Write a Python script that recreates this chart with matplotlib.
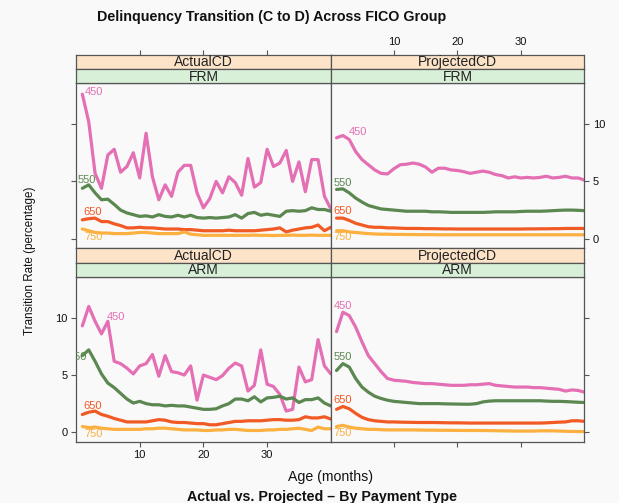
import matplotlib
matplotlib.use("Agg")
import matplotlib.pyplot as plt
import numpy as np

plt.rcParams['font.family'] = ['Liberation Sans', 'DejaVu Sans']

# ---------------- data ----------------
ages = list(range(1, 41))
fico_groups = ["450", "550", "650", "750"]
measures = ["ActualCD", "ProjectedCD"]
pay_types = ["FRM", "ARM"]
x_ticks = [10, 20, 30]
y_ticks = [0, 5, 10]

frm_actual_450 = [12.6, 10.2, 5.7, 4.4, 7.3, 7.8, 5.8, 6.3, 7.5, 5.3, 9.2, 5.4, 3.4, 4.7, 3.7, 5.8, 6.4, 6.4, 4.0, 2.7,
                  3.5, 5.0, 4.0, 5.4, 4.9, 3.8, 7.0, 4.5, 4.9, 7.8, 6.3, 6.6, 7.7, 5.0, 6.7, 4.1, 6.9, 6.9, 3.7, 2.6]
frm_actual_550 = [4.4, 4.7, 4.0, 3.4, 3.45, 3.0, 2.5, 2.25, 2.1, 1.95, 2.0, 1.9, 2.1, 1.95, 1.9, 2.05, 1.9, 2.05, 1.85, 1.8,
                  1.85, 1.8, 1.85, 1.9, 2.1, 1.8, 2.2, 2.3, 2.05, 2.15, 2.05, 1.95, 2.4, 2.45, 2.4, 2.45, 2.7, 2.55, 2.55, 2.4]
frm_actual_650 = [1.65, 1.75, 1.8, 1.5, 1.5, 1.3, 1.15, 0.95, 0.95, 1.0, 0.95, 0.95, 0.9, 0.85, 0.85, 0.85, 0.8, 0.8, 0.75, 0.7,
                  0.7, 0.7, 0.7, 0.75, 0.7, 0.7, 0.7, 0.7, 0.75, 0.8, 0.85, 0.95, 0.6, 0.75, 0.85, 0.95, 1.0, 1.2, 0.7, 1.0]
frm_actual_750 = [0.85, 0.7, 0.55, 0.5, 0.5, 0.45, 0.45, 0.45, 0.5, 0.55, 0.55, 0.5, 0.45, 0.45, 0.45, 0.45, 0.6, 0.4, 0.35, 0.3,
                  0.3, 0.3, 0.3, 0.3, 0.3, 0.3, 0.3, 0.32, 0.3, 0.3, 0.28, 0.3, 0.3, 0.32, 0.3, 0.3, 0.32, 0.3, 0.3, 0.3]

frm_proj_450 = [8.8, 9.0, 8.65, 7.6, 6.9, 6.45, 6.0, 5.7, 5.65, 6.1, 6.45, 6.5, 6.6, 6.5, 6.25, 5.8, 6.15, 6.15, 6.0, 5.95,
                5.85, 5.7, 5.8, 5.9, 5.8, 5.6, 5.5, 5.3, 5.4, 5.3, 5.35, 5.3, 5.35, 5.45, 5.3, 5.35, 5.45, 5.3, 5.3, 5.1]
frm_proj_550 = [4.3, 4.35, 4.0, 3.55, 3.2, 2.9, 2.75, 2.6, 2.55, 2.5, 2.45, 2.4, 2.4, 2.4, 2.4, 2.35, 2.35, 2.33, 2.3, 2.3,
                2.3, 2.3, 2.3, 2.3, 2.32, 2.35, 2.35, 2.35, 2.35, 2.38, 2.4, 2.4, 2.4, 2.42, 2.45, 2.48, 2.5, 2.5, 2.48, 2.45]
frm_proj_650 = [1.8, 1.8, 1.6, 1.35, 1.2, 1.05, 1.0, 1.0, 0.95, 0.95, 0.92, 0.9, 0.9, 0.9, 0.88, 0.88, 0.87, 0.86, 0.86, 0.85,
                0.85, 0.85, 0.85, 0.85, 0.85, 0.85, 0.85, 0.85, 0.85, 0.85, 0.86, 0.86, 0.87, 0.87, 0.88, 0.88, 0.9, 0.9, 0.9, 0.9]
frm_proj_750 = [0.7, 0.7, 0.6, 0.55, 0.5, 0.45, 0.42, 0.4, 0.4, 0.38, 0.38, 0.37, 0.37, 0.36, 0.36, 0.36, 0.35, 0.35, 0.35, 0.35,
                0.35, 0.35, 0.35, 0.35, 0.35, 0.35, 0.35, 0.35, 0.35, 0.35, 0.35, 0.35, 0.35, 0.35, 0.35, 0.35, 0.35, 0.35, 0.35, 0.35]

arm_actual_450 = [9.3, 11.0, 9.7, 8.6, 9.7, 6.2, 6.0, 5.6, 5.1, 5.8, 6.0, 6.8, 4.9, 6.7, 5.3, 5.2, 5.0, 5.8, 2.8, 5.0,
                  4.8, 4.6, 4.95, 5.6, 6.05, 5.8, 3.6, 4.1, 7.2, 4.2, 4.0, 3.3, 1.85, 2.0, 5.7, 4.4, 4.6, 8.1, 5.8, 5.1]
arm_actual_550 = [6.7, 7.2, 6.2, 5.1, 4.3, 3.9, 3.4, 2.9, 2.55, 2.7, 2.5, 2.4, 2.4, 2.3, 2.35, 2.3, 2.3, 2.2, 2.1, 2.0,
                  2.0, 2.05, 2.3, 2.5, 2.9, 2.9, 2.75, 3.1, 2.65, 3.0, 3.05, 3.15, 2.9, 3.0, 2.6, 2.85, 2.85, 3.0, 2.55, 2.3]
arm_actual_650 = [1.55, 1.75, 1.85, 1.55, 1.4, 1.2, 1.05, 0.9, 0.9, 0.9, 0.9, 1.0, 1.1, 1.05, 0.9, 0.85, 0.85, 0.8, 0.75, 0.75,
                  0.65, 0.65, 0.75, 0.85, 0.95, 0.95, 1.0, 1.0, 1.0, 1.05, 1.1, 1.1, 1.05, 1.05, 1.1, 1.35, 1.25, 1.25, 1.35, 1.15]
arm_actual_750 = [0.5, 0.4, 0.45, 0.35, 0.3, 0.25, 0.25, 0.25, 0.25, 0.25, 0.3, 0.3, 0.35, 0.35, 0.3, 0.25, 0.2, 0.2, 0.2, 0.15,
                  0.15, 0.2, 0.2, 0.25, 0.25, 0.2, 0.15, 0.15, 0.15, 0.2, 0.2, 0.25, 0.25, 0.3, 0.35, 0.25, 0.15, 0.45, 0.3, 0.3]

arm_proj_450 = [8.8, 10.5, 10.2, 9.2, 7.9, 6.7, 6.0, 5.3, 4.7, 4.55, 4.5, 4.45, 4.35, 4.3, 4.25, 4.25, 4.2, 4.15, 4.1, 4.1,
                4.1, 4.15, 4.15, 4.2, 4.25, 4.1, 4.05, 4.0, 3.95, 3.95, 3.95, 3.9, 3.9, 3.85, 3.8, 3.75, 3.6, 3.7, 3.65, 3.5]
arm_proj_550 = [5.4, 6.0, 5.7, 4.7, 3.95, 3.5, 3.15, 2.95, 2.8, 2.7, 2.65, 2.6, 2.55, 2.5, 2.5, 2.5, 2.5, 2.48, 2.47, 2.46,
                2.45, 2.45, 2.5, 2.65, 2.72, 2.75, 2.75, 2.75, 2.75, 2.75, 2.75, 2.75, 2.75, 2.72, 2.7, 2.7, 2.68, 2.65, 2.62, 2.6]
arm_proj_650 = [2.0, 2.25, 2.05, 1.65, 1.3, 1.1, 1.0, 0.95, 0.9, 0.9, 0.88, 0.87, 0.86, 0.85, 0.85, 0.85, 0.84, 0.83, 0.82, 0.82,
                0.81, 0.8, 0.8, 0.8, 0.8, 0.8, 0.8, 0.8, 0.8, 0.8, 0.8, 0.8, 0.8, 0.82, 0.85, 0.88, 0.9, 1.0, 1.0, 0.95]
arm_proj_750 = [0.5, 0.6, 0.45, 0.35, 0.3, 0.25, 0.25, 0.22, 0.2, 0.2, 0.2, 0.2, 0.2, 0.19, 0.18, 0.18, 0.17, 0.17, 0.16, 0.16,
                0.15, 0.15, 0.15, 0.15, 0.14, 0.13, 0.12, 0.11, 0.1, 0.1, 0.1, 0.1, 0.12, 0.12, 0.12, 0.1, 0.08, 0.07, 0.06, 0.05]

panel_data = {
    ("ActualCD", "FRM"): [frm_actual_450, frm_actual_550, frm_actual_650, frm_actual_750],
    ("ProjectedCD", "FRM"): [frm_proj_450, frm_proj_550, frm_proj_650, frm_proj_750],
    ("ActualCD", "ARM"): [arm_actual_450, arm_actual_550, arm_actual_650, arm_actual_750],
    ("ProjectedCD", "ARM"): [arm_proj_450, arm_proj_550, arm_proj_650, arm_proj_750],
}

# ---------------- style ----------------
colors = ['#e46fb4', '#5b8750', '#f15a24', '#fbb040']
strip1_color = '#fde4c9'
strip2_color = '#d8efd8'
frame_color = '#555555'
bg = '#f9f9f9'

# direct label offsets (pixels) and alignment per panel
label_offsets = {
    ("ActualCD", "FRM"): [(2, 2, 'left'), (-4.5, 8, 'left'), (1, 7.5, 'left'), (2, -8, 'left')],
    ("ProjectedCD", "FRM"): [(12, 5.5, 'left'), (-3, 6, 'left'), (-3, 7, 'left'), (-3, -6, 'left')],
    ("ActualCD", "ARM"): [(24, 9, 'left'), (5, -1.5, 'right'), (1, 8, 'left'), (2, -8, 'left')],
    ("ProjectedCD", "ARM"): [(-3, 26, 'left'), (-3, 13, 'left'), (-3, 9, 'left'), (-3, -7, 'left')],
}

W, H = 619, 503
fig = plt.figure(figsize=(W / 100, H / 100), dpi=100, facecolor=bg)


def rect(l, t, r, b):
    return [l / W, 1 - b / H, (r - l) / W, (b - t) / H]


col_x = [(76.3, 330.5), (330.5, 584.3)]
rows = [  # strip1 top, strip1/2 boundary, strip2 bottom (= plot top), plot bottom
    (55.0, 69.3, 83.3, 248.3),
    (248.3, 262.7, 277.3, 441.7),
]
xlim = (0.05, 39.95)
ylim = (-0.83, 13.55)

tick_kw = dict(direction='out', length=3.6, width=0.8, color=frame_color,
               labelsize=8, labelcolor='#111111', pad=2.5)

for ri, ptype in enumerate(pay_types):
    s1t, s12, s2b, pb = rows[ri]
    for ci, meas in enumerate(measures):
        l, r = col_x[ci]
        ax = fig.add_axes(rect(l, s2b, r, pb), facecolor=bg)
        for k, series in enumerate(panel_data[(meas, ptype)]):
            ax.plot(ages, series, color=colors[k], lw=2.3, solid_joinstyle='round',
                    solid_capstyle='round')
            dx, dy, ha = label_offsets[(meas, ptype)][k]
            ax.annotate(fico_groups[k], xy=(ages[0], series[0]), xytext=(dx, dy),
                        textcoords='offset pixels', ha=ha, va='center',
                        color=colors[k], fontsize=8, clip_on=True)
        ax.set_xlim(*xlim)
        ax.set_ylim(*ylim)
        ax.set_xticks(x_ticks)
        ax.set_yticks(y_ticks)
        for sp in ax.spines.values():
            sp.set_color(frame_color)
            sp.set_linewidth(0.9)
        ax.tick_params(axis='both', **tick_kw)
        ax.tick_params(axis='x', top=False, bottom=(ri == 1), labelbottom=(ri == 1 and ci == 0))
        ax.tick_params(axis='y', left=(ci == 0), right=(ci == 1),
                       labelleft=(ci == 0 and ri == 1), labelright=(ci == 1 and ri == 0))

        # strips
        sa1 = fig.add_axes(rect(l, s1t, r, s12), facecolor=strip1_color)
        sa2 = fig.add_axes(rect(l, s12, r, s2b), facecolor=strip2_color)
        for sa, txt in ((sa1, meas), (sa2, ptype)):
            sa.set_xlim(*xlim)
            sa.set_ylim(0, 1)
            sa.set_yticks([])
            for sp in sa.spines.values():
                sp.set_color(frame_color)
                sp.set_linewidth(0.9)
            sa.text(0.5, 0.48, txt, transform=sa.transAxes, ha='center', va='center',
                    fontsize=10, color='#222222')
            sa.set_xticks([])
        if ri == 0:
            sa1.set_xticks(x_ticks)
            sa1.tick_params(axis='x', **tick_kw)
            sa1.tick_params(axis='x', top=True, bottom=False, labelbottom=False,
                            labeltop=(ci == 1))

fig.text(272 / W, 1 - 17 / H, "Delinquency Transition (C to D) Across FICO Group",
         ha='center', va='center', fontsize=10.3, fontweight='bold', color='#111111')
fig.text(330 / W, 1 - 477 / H, "Age (months)", ha='center', va='center',
         fontsize=10.2, color='#111111')
fig.text(322 / W, 1 - 497 / H, "Actual vs. Projected \u2013 By Payment Type",
         ha='center', va='center', fontsize=10.3, fontweight='bold', color='#111111')
fig.text(30 / W, 1 - 261 / H, "Transition Rate (percentage)", ha='center', va='center',
         rotation=90, fontsize=8.4, color='#111111')

fig.savefig("out.png", dpi=100, facecolor=bg)
